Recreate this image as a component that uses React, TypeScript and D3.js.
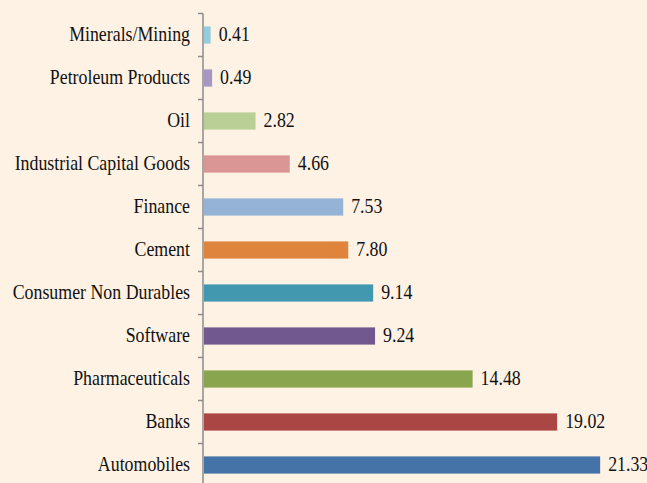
import React, { useEffect, useRef } from 'react';
import * as d3 from 'd3';

const categories = [
  'Minerals/Mining',
  'Petroleum Products',
  'Oil',
  'Industrial Capital Goods',
  'Finance',
  'Cement',
  'Consumer Non Durables',
  'Software',
  'Pharmaceuticals',
  'Banks',
  'Automobiles',
];
const values = [0.41, 0.49, 2.82, 4.66, 7.53, 7.8, 9.14, 9.24, 14.48, 19.02, 21.33];
const colors = [
  '#93cddd', '#a597c1', '#b9cf96', '#d99694', '#95b3d7', '#df843c',
  '#4198af', '#71588f', '#89a54e', '#aa4643', '#4572a7',
];

const width = 647;
const height = 483;

export default function App() {
  const ref = useRef<SVGSVGElement>(null);

  useEffect(() => {
    const svg = d3.select(ref.current);
    svg.selectAll('*').remove();

    const data = categories.map((c, i) => ({ name: c, value: values[i], color: colors[i] }));
    const left = 203;

    const x = d3.scaleLinear().domain([0, 22]).range([left, left + 22 * 18.62]);
    const y = d3.scaleBand().domain(categories).range([13.5, 486.5]).paddingInner(0.6).paddingOuter(0.3);

    svg.append('rect').attr('width', width).attr('height', height).attr('fill', '#fef2e4');

    svg.append('g')
      .selectAll('rect')
      .data(data)
      .join('rect')
      .attr('x', x(0) + 1)
      .attr('y', (d) => y(d.name)!)
      .attr('width', (d) => x(d.value) - x(0) - 1)
      .attr('height', y.bandwidth())
      .attr('fill', (d) => d.color);

    const axis = svg.append('g');
    axis.append('line')
      .attr('x1', left).attr('x2', left)
      .attr('y1', 13.5).attr('y2', 486.5)
      .attr('stroke', '#8c8c8c').attr('stroke-width', 1.5);
    const step = y.step();
    axis.selectAll('.tick')
      .data(d3.range(categories.length + 1))
      .join('line')
      .attr('class', 'tick')
      .attr('x1', left - 5).attr('x2', left)
      .attr('y1', (i) => 13.5 + i * step)
      .attr('y2', (i) => 13.5 + i * step)
      .attr('stroke', '#8c8c8c').attr('stroke-width', 1.5);

    // condensed serif look, like the original Garamond labels
    const font = "'Liberation Serif', serif";
    const squeeze = 0.85;
    svg.append('g')
      .selectAll('text')
      .data(data)
      .join('text')
      .attr('transform', (d) => `translate(${left - 13},${y(d.name)! + y.bandwidth() / 2 - 1}) scale(${squeeze},1)`)
      .attr('dy', '0.35em')
      .attr('text-anchor', 'end')
      .attr('font-family', font)
      .attr('font-size', 21)
      .attr('fill', '#111')
      .text((d) => d.name);

    svg.append('g')
      .selectAll('text')
      .data(data)
      .join('text')
      .attr('transform', (d) => `translate(${x(d.value) + 8},${y(d.name)! + y.bandwidth() / 2 - 1}) scale(${squeeze},1)`)
      .attr('dy', '0.35em')
      .attr('font-family', font)
      .attr('font-size', 21)
      .attr('fill', '#111')
      .text((d) => d.value.toFixed(2));
  }, []);

  return (
    <svg
      ref={ref}
      width={width}
      height={height}
      style={{ position: 'fixed', top: 0, left: 0, display: 'block' }}
    />
  );
}
